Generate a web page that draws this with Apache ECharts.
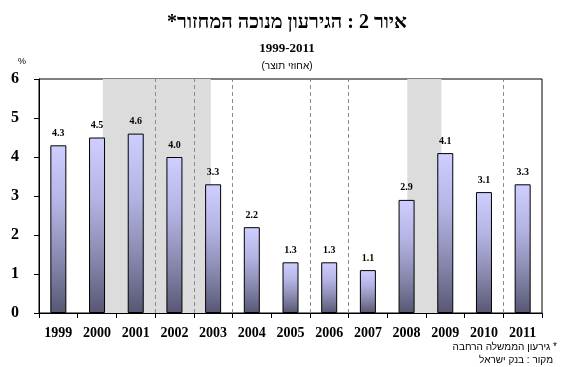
<!DOCTYPE html>
<html><head><meta charset="utf-8">
<script src="https://cdn.jsdelivr.net/npm/echarts@6/dist/echarts.min.js"></script>
<style>html,body{margin:0;padding:0;background:#fff}#c{width:574px;height:367px;direction:rtl}</style>
</head><body><div id="c"></div>
<script>
var years = ['1999','2000','2001','2002','2003','2004','2005','2006','2007','2008','2009','2010','2011'];
var deficit = [4.3, 4.5, 4.6, 4.0, 3.3, 2.2, 1.3, 1.3, 1.1, 2.9, 4.1, 3.1, 3.3];
var yTicks = [0, 1, 2, 3, 4, 5, 6];
// shaded periods, in category-band units from the left edge of 1999
var shadedPeriods = [[1.65, 4.44], [9.52, 10.4]];
// dashed separators, at band boundaries
var dashedBoundaries = [3, 4, 5, 7, 8, 12];

var titleText = 'איור 2 : הגירעון מנוכה המחזור*';
var periodText = '1999-2011';
var unitText = '(אחוזי תוצר)';
var noteText = '* גירעון הממשלה הרחבה';
var sourceText = 'מקור : בנק ישראל';

var serif = '"Liberation Serif","DejaVu Serif",serif';
var sans = '"Liberation Sans","DejaVu Sans",sans-serif';

var chart = echarts.init(document.getElementById('c'), null, {renderer: 'canvas'});
chart.setOption({
  animation: false,
  backgroundColor: '#fff',
  title: [
    {text: titleText, left: 'center', top: 13, padding: 0,
     textStyle: {fontFamily: serif, fontWeight: 'bold', fontSize: 20, color: '#000'}},
    {text: periodText, left: 'center', top: 42, padding: 0,
     textStyle: {fontFamily: serif, fontWeight: 'bold', fontSize: 13, color: '#000'}},
    {text: unitText, left: 'center', top: 61, padding: 0,
     textStyle: {fontFamily: sans, fontWeight: 'normal', fontSize: 10, color: '#000'}}
  ],
  graphic: [
    {type: 'text', left: 18, top: 57, style: {text: '%', font: '9px ' + sans, fill: '#000'}},
    {type: 'text', right: 17, top: 342, style: {text: noteText, font: '10px ' + sans, fill: '#000'}},
    {type: 'text', right: 21, top: 355, style: {text: sourceText, font: '10px ' + sans, fill: '#000'}}
  ],
  grid: {left: 39, right: 32, top: 79, bottom: 54, show: true, borderColor: '#000', borderWidth: 1, backgroundColor: 'transparent'},
  xAxis: [
    {type: 'category', data: years, boundaryGap: true,
     axisLine: {lineStyle: {color: '#000', width: 1}},
     axisTick: {show: true, length: 5, inside: false, lineStyle: {color: '#000'}},
     axisLabel: {interval: 0, margin: 13, fontFamily: serif, fontWeight: 'bold', fontSize: 14, color: '#000'},
     splitLine: {show: false}},
    {type: 'value', min: 0, max: years.length, show: false, splitLine: {show: false}}
  ],
  yAxis: {type: 'value', min: yTicks[0], max: yTicks[yTicks.length - 1], interval: 1,
    axisLine: {show: true, lineStyle: {color: '#000', width: 1}},
    axisTick: {show: true, length: 5, lineStyle: {color: '#000'}},
    axisLabel: {margin: 20, fontFamily: serif, fontWeight: 'bold', fontSize: 16, color: '#000'},
    splitLine: {show: false}},
  series: [
    {type: 'line', xAxisIndex: 1, yAxisIndex: 0, data: [], z: 1, silent: true,
     markArea: {silent: true, itemStyle: {color: '#dcdcdc'},
       data: shadedPeriods.map(function (p) { return [{xAxis: p[0]}, {xAxis: p[1]}]; })},
     markLine: {silent: true, symbol: 'none', label: {show: false},
       lineStyle: {type: [4, 3], color: '#8c8c8c', width: 1},
       data: dashedBoundaries.map(function (b) { return {xAxis: b}; })}},
    {type: 'bar', data: deficit, barWidth: 16, z: 3,
     itemStyle: {borderColor: '#000', borderWidth: 1,
       color: new echarts.graphic.LinearGradient(0, 0, 0, 1, [
         {offset: 0, color: '#ceceff'},
         {offset: 0.35, color: '#b4b4e4'},
         {offset: 0.7, color: '#8686ac'},
         {offset: 1, color: '#575773'}])},
     label: {show: true, position: 'top', distance: 7, fontFamily: serif, fontWeight: 'bold', fontSize: 10, color: '#000',
       formatter: function (p) { return p.value.toFixed(1); }}}
  ]
});
</script></body></html>
